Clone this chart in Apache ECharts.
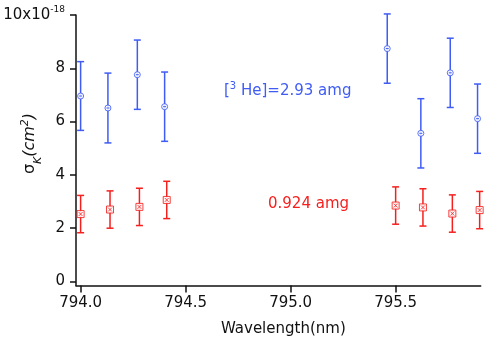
<!DOCTYPE html>
<html>
<head>
<meta charset="utf-8">
<script src="https://cdn.jsdelivr.net/npm/echarts@6/dist/echarts.min.js"></script>
<style>
html, body { margin: 0; padding: 0; background: #fff; }
#chart { width: 484px; height: 344px; }
</style>
</head>
<body>
<div id="chart"></div>
<script>
// wavelength (nm) and cross section (x1e-18 cm^2)
var blueWavelength = [794.00, 794.13, 794.27, 794.40, 795.46, 795.62, 795.76, 795.89];
var blueSigma = [6.96, 6.51, 7.76, 6.56, 8.74, 5.56, 7.83, 6.11];
var blueErr = [1.29, 1.31, 1.30, 1.30, 1.30, 1.30, 1.30, 1.30];

var redWavelength = [794.00, 794.14, 794.28, 794.41, 795.50, 795.63, 795.77, 795.90];
var redSigma = [2.53, 2.70, 2.80, 3.06, 2.85, 2.78, 2.55, 2.68];
var redErr = [0.70, 0.70, 0.70, 0.70, 0.70, 0.70, 0.70, 0.70];

var xTicks = [794.0, 794.5, 795.0, 795.5];
var yTicks = [0, 2, 4, 6, 8, 10];

var FONT = "'DejaVu Sans', sans-serif";
var BLUE = "#3f5cf5";
var RED = "#f5201e";

function toData(xs, ys, es) {
    return xs.map(function (x, i) {
        return [x, ys[i], ys[i] - es[i], ys[i] + es[i]];
    });
}

function errorBarRenderer(color, marker) {
    return function (params, api) {
        var p = api.coord([api.value(0), api.value(1)]);
        var lo = api.coord([api.value(0), api.value(2)]);
        var hi = api.coord([api.value(0), api.value(3)]);
        var cap = 3.5;
        var stroke = { stroke: color, lineWidth: 1.5 };
        var children = [
            { type: "line", shape: { x1: p[0], y1: lo[1], x2: p[0], y2: hi[1] }, style: stroke },
            { type: "line", shape: { x1: p[0] - cap, y1: lo[1], x2: p[0] + cap, y2: lo[1] }, style: stroke },
            { type: "line", shape: { x1: p[0] - cap, y1: hi[1], x2: p[0] + cap, y2: hi[1] }, style: stroke }
        ];
        if (marker === "circle") {
            children.push({ type: "circle", shape: { cx: p[0], cy: p[1], r: 3 },
                style: { fill: "#fff", stroke: color, lineWidth: 1, opacity: 0.85 } });
            children.push({ type: "line", shape: { x1: p[0] - 1.5, y1: p[1], x2: p[0] + 1.5, y2: p[1] },
                style: { stroke: color, lineWidth: 1 } });
        } else {
            children.push({ type: "rect", shape: { x: p[0] - 3.5, y: p[1] - 3.5, width: 7, height: 7 },
                style: { fill: "#fff", stroke: color, lineWidth: 1, opacity: 0.85 } });
            children.push({ type: "line", shape: { x1: p[0] - 2, y1: p[1] - 2, x2: p[0] + 2, y2: p[1] + 2 },
                style: { stroke: color, lineWidth: 0.8 } });
            children.push({ type: "line", shape: { x1: p[0] - 2, y1: p[1] + 2, x2: p[0] + 2, y2: p[1] - 2 },
                style: { stroke: color, lineWidth: 0.8 } });
        }
        return { type: "group", children: children };
    };
}

var chart = echarts.init(document.getElementById("chart"));
chart.setOption({
    animation: false,
    grid: { left: 76, right: 3.3, top: 15, bottom: 58.5, outerBoundsMode: "none", containLabel: false },
    xAxis: {
        type: "value",
        min: 793.978,
        max: 795.905,
        name: "Wavelength(nm)",
        nameLocation: "middle",
        nameGap: 36,
        nameTextStyle: { fontFamily: FONT, fontSize: 15, color: "#111", padding: [0, 0, 0, 10] },
        axisLine: { show: true, onZero: false, lineStyle: { color: "#111", width: 1.5 } },
        axisTick: { show: true, length: 7, customValues: xTicks, lineStyle: { color: "#111", width: 1.5 } },
        axisLabel: {
            customValues: xTicks,
            margin: 10,
            fontFamily: FONT, fontSize: 15, color: "#111",
            formatter: function (v) { return v.toFixed(1); }
        },
        splitLine: { show: false }
    },
    yAxis: {
        type: "value",
        min: -0.15,
        max: 10,
        axisLine: { show: true, onZero: false, lineStyle: { color: "#111", width: 1.5 } },
        axisTick: { show: true, length: 6, customValues: yTicks, lineStyle: { color: "#111", width: 1.5 } },
        axisLabel: {
            customValues: yTicks,
            margin: 11,
            fontFamily: FONT, fontSize: 15, color: "#111",
            formatter: function (v) {
                return v === 10 ? "{a|10x10}{s|-18}" : "{a|" + v + "}";
            },
            rich: {
                a: { fontFamily: FONT, fontSize: 15, color: "#111" },
                s: { fontFamily: FONT, fontSize: 9, color: "#111", verticalAlign: "bottom", padding: [0, 0, 10, 0] }
            }
        },
        splitLine: { show: false }
    },
    graphic: [
        {
            type: "text",
            x: 30, y: 143.5,
            rotation: Math.PI / 2,
            style: {
                text: "{g|σ}{k|K}{i|(cm}{s|2}{i|)}",
                align: "center",
                verticalAlign: "middle",
                fill: "#111",
                rich: {
                    g: { fontFamily: FONT, fontSize: 16, fill: "#111" },
                    k: { fontFamily: FONT, fontSize: 11, fontStyle: "italic", fill: "#111", verticalAlign: "bottom", padding: [0, 0, -3, 0] },
                    i: { fontFamily: FONT, fontSize: 16, fontStyle: "italic", fill: "#111" },
                    s: { fontFamily: FONT, fontSize: 11, fontStyle: "italic", fill: "#111", verticalAlign: "bottom", padding: [0, 0, 10, 0] }
                }
            }
        },
        {
            type: "text",
            x: 224, y: 91,
            style: {
                text: "{a|[}{s|3}{a| He]=2.93 amg}",
                verticalAlign: "middle",
                fill: BLUE,
                rich: {
                    a: { fontFamily: FONT, fontSize: 15, fill: BLUE },
                    s: { fontFamily: FONT, fontSize: 10, fill: BLUE, verticalAlign: "bottom", padding: [0, 0, 10, 0] }
                }
            }
        },
        {
            type: "text",
            x: 268, y: 204,
            style: {
                text: "0.924 amg",
                verticalAlign: "middle",
                fill: RED,
                font: "15px " + FONT
            }
        }
    ],
    series: [
        {
            type: "custom",
            name: "2.93 amg",
            renderItem: errorBarRenderer(BLUE, "circle"),
            encode: { x: 0, y: [1, 2, 3] },
            data: toData(blueWavelength, blueSigma, blueErr),
            clip: false
        },
        {
            type: "custom",
            name: "0.924 amg",
            renderItem: errorBarRenderer(RED, "square"),
            encode: { x: 0, y: [1, 2, 3] },
            data: toData(redWavelength, redSigma, redErr),
            clip: false
        }
    ]
});
</script>
</body>
</html>
